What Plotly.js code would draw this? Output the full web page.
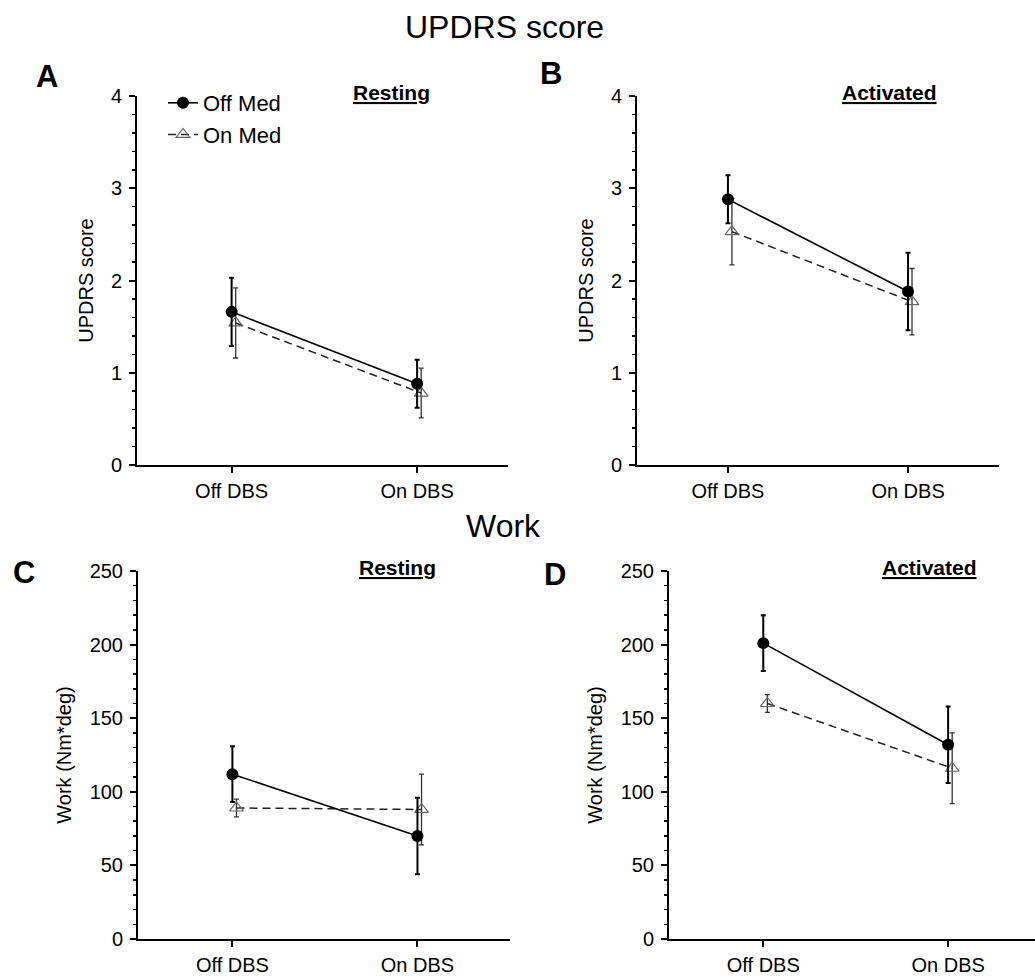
<!DOCTYPE html>
<html>
<head>
<meta charset="utf-8">
<script src="https://cdn.plot.ly/plotly-3.0.1.min.js"></script>
<style>html,body{margin:0;padding:0;background:#fff;}#chart{width:1035px;height:979px;}</style>
</head>
<body>
<div id="chart"></div>
<script>
// ---- data ----
const categories = ['Off DBS', 'On DBS'];
const seriesNames = ['Off Med', 'On Med'];

const updrsRestOffMed = [1.66, 0.88];
const updrsRestOffMedErr = [0.37, 0.26];
const updrsRestOnMed = [1.54, 0.78];
const updrsRestOnMedErr = [0.38, 0.27];

const updrsActOffMed = [2.88, 1.88];
const updrsActOffMedErr = [0.26, 0.42];
const updrsActOnMed = [2.53, 1.77];
const updrsActOnMedErr = [0.36, 0.36];

const workRestOffMed = [112, 70];
const workRestOffMedErr = [19, 26];
const workRestOnMed = [89, 88];
const workRestOnMedErr = [6, 24];

const workActOffMed = [201, 132];
const workActOffMedErr = [19, 26];
const workActOnMed = [160, 116];
const workActOnMedErr = [6, 24];

const panelTitles = ['Resting', 'Activated', 'Resting', 'Activated'];

// ---- style ----
const FONT = 'Liberation Sans, Arial, Helvetica, sans-serif';
const onMedShift = 0.022; // small horizontal offset of the On Med series
const catIdx = categories.map((c, i) => i);

function offTrace(y, err, xa, ya, showlegend) {
  return {
    x: catIdx, y: y, xaxis: xa, yaxis: ya, name: seriesNames[0],
    type: 'scatter', mode: 'lines+markers', showlegend: showlegend,
    line: {color: '#000', width: 1.6},
    marker: {symbol: 'circle', size: 12, color: '#000'},
    error_y: {type: 'data', array: err, visible: true, color: '#000', thickness: 2, width: 2.5}
  };
}
function onTrace(y, err, xa, ya, showlegend) {
  return {
    x: catIdx.map(v => v + onMedShift), y: y, xaxis: xa, yaxis: ya, name: seriesNames[1],
    type: 'scatter', mode: 'lines+markers', showlegend: showlegend,
    line: {color: '#222', width: 1.5, dash: '8px,5px'},
    marker: {symbol: 'triangle-up-open', size: 12, color: '#666', line: {width: 1.2}},
    error_y: {type: 'data', array: err, visible: true, color: '#333', thickness: 1.3, width: 2.5}
  };
}

const data = [
  onTrace(updrsRestOnMed, updrsRestOnMedErr, 'x', 'y', true),
  offTrace(updrsRestOffMed, updrsRestOffMedErr, 'x', 'y', true),
  onTrace(updrsActOnMed, updrsActOnMedErr, 'x2', 'y2', false),
  offTrace(updrsActOffMed, updrsActOffMedErr, 'x2', 'y2', false),
  onTrace(workRestOnMed, workRestOnMedErr, 'x3', 'y3', false),
  offTrace(workRestOffMed, workRestOffMedErr, 'x3', 'y3', false),
  onTrace(workActOnMed, workActOnMedErr, 'x4', 'y4', false),
  offTrace(workActOffMed, workActOffMedErr, 'x4', 'y4', false)
];
data[0].legendrank = 2;
data[1].legendrank = 1;

function xAxis(domain, range, anchor) {
  return {
    domain: domain, range: range, anchor: anchor,
    tickvals: catIdx, ticktext: categories,
    showline: true, linewidth: 2, linecolor: '#000',
    ticks: 'outside', ticklen: 6, tickwidth: 2, tickcolor: '#000',
    ticklabelstandoff: 1,
    showgrid: false, zeroline: false,
    tickfont: {family: FONT, size: 20, color: '#000'}
  };
}
function yAxis(domain, range, dtick, minorDtick, title, anchor, standoff) {
  return {
    domain: domain, range: range, anchor: anchor, dtick: dtick,
    showline: true, linewidth: 2, linecolor: '#000',
    ticks: 'outside', ticklen: 6, tickwidth: 2, tickcolor: '#000',
    minor: {dtick: minorDtick, ticks: 'outside', ticklen: 3, tickwidth: 1.5, tickcolor: '#000', showgrid: false},
    ticklabelstandoff: 3,
    showgrid: false, zeroline: false,
    tickfont: {family: FONT, size: 20, color: '#000'},
    title: {text: title, font: {family: FONT, size: 20, color: '#000'}, standoff: standoff}
  };
}

const W = 1035, H = 979;
const px = v => v / W;
const py = v => 1 - v / H;

function note(text, x, y, size) {
  return {text: text, x: px(x), y: py(y), xref: 'paper', yref: 'paper', showarrow: false,
          xanchor: 'center', yanchor: 'middle', font: {family: FONT, size: size, color: '#000'}};
}

const layout = {
  width: W, height: H,
  margin: {l: 0, r: 0, t: 0, b: 0},
  paper_bgcolor: '#fff', plot_bgcolor: 'rgba(0,0,0,0)',
  showlegend: true,
  legend: {
    x: px(163), y: py(82), xanchor: 'left', yanchor: 'top',
    bgcolor: 'rgba(0,0,0,0)', borderwidth: 0,
    font: {family: FONT, size: 22, color: '#000'},
    itemwidth: 30, tracegroupgap: 0
  },
  xaxis: xAxis([px(137), px(508)], [-0.51, 1.49], 'y'),
  yaxis: yAxis([py(465), py(96)], [0, 4], 1, 0.2, 'UPDRS score', 'x', 12),
  xaxis2: xAxis([px(637), px(999)], [-0.505, 1.505], 'y2'),
  yaxis2: yAxis([py(465), py(96)], [0, 4], 1, 0.2, 'UPDRS score', 'x2', 12),
  xaxis3: xAxis([px(138), px(510)], [-0.51, 1.5], 'y3'),
  yaxis3: yAxis([py(939), py(571)], [0, 250], 50, 10, 'Work (Nm*deg)', 'x3', 13),
  xaxis4: xAxis([px(669), px(1035)], [-0.51, 1.47], 'y4'),
  yaxis4: yAxis([py(939), py(571)], [0, 250], 50, 10, 'Work (Nm*deg)', 'x4', 13),
  annotations: [
    note('UPDRS score', 504, 27, 32),
    note('Work', 503, 526, 32),
    note('<b>A</b>', 47, 76, 31),
    note('<b>B</b>', 551, 74, 31),
    note('<b>C</b>', 24, 572, 31),
    note('<b>D</b>', 555, 574, 31),
    note('<b><u>' + panelTitles[0] + '</u></b>', 391, 92, 21),
    note('<b><u>' + panelTitles[1] + '</u></b>', 889, 92, 21),
    note('<b><u>' + panelTitles[2] + '</u></b>', 397, 567, 21),
    note('<b><u>' + panelTitles[3] + '</u></b>', 929, 567, 21)
  ]
};

Plotly.newPlot('chart', data, layout, {displayModeBar: false, staticPlot: true});
</script>
</body>
</html>
